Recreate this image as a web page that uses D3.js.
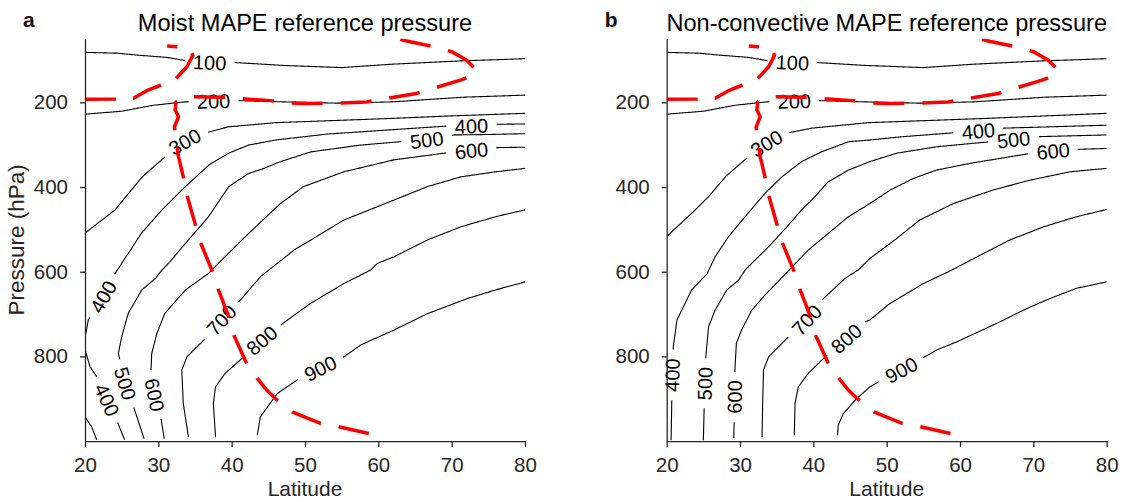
<!DOCTYPE html>
<html>
<head>
<meta charset="utf-8">
<script src="https://cdn.jsdelivr.net/npm/d3@7"></script>
<style>
  body { margin: 0; background: #fff; }
  svg text { font-family: "Liberation Sans", Arial, Helvetica, sans-serif; }
</style>
</head>
<body>
<div id="chart"></div>
<script>
// axis ticks
const latTicks = [20, 30, 40, 50, 60, 70, 80];
const pressureTicks = [200, 400, 600, 800];
const latDomain = [20, 80];
const pressureDomain = [50, 1000];

// contour lines, points are [latitude, pressure hPa]
// panel a: moist MAPE reference pressure
const moist100 = [[20,82],[24.4,84],[26.8,88],[31.2,94],[33.9,102],[37,106],[40.4,106],[47.2,113],[55,118],[61.8,110],[71.5,102],[80,97]];
const moist200 = [[20,228],[25,221],[29.3,207],[33.6,199],[40.8,196],[47.2,199],[54.5,202],[61.8,199],[71.5,188],[80,183]];
const moist300 = [[20,509],[24.1,454],[27.8,376],[30.9,329],[33.6,293],[36.9,270],[39.5,258],[46,248],[54,243],[61.8,238],[70,232],[80,226]];
const moist400 = [[80,251],[76,252],[72.7,256],[69.4,256],[61.6,265],[53,275],[46,289],[42.3,301],[39.6,320],[36.9,348],[33.2,407],[30.5,454],[27.7,509],[25.9,557],[24.1,604],[22.5,659],[20.45,714],[20.02,754],[20.02,785],[20.7,825],[21.6,848],[23.0,903],[24.4,954],[25.4,997]];
const moist400corner = [[20,943],[20.9,966],[21.6,997]];
const moist500 = [[80,274],[75,276],[70.3,277],[66.6,289],[63,293],[57.6,301],[50.8,317],[46.5,341],[44.1,358],[42.3,368],[39.6,399],[36.85,470],[33.7,533],[31.4,580],[30.4,598],[29.6,616],[27.75,643],[25.9,698],[25.0,754],[24.55,793],[25.5,864],[26.7,923],[28.05,994]];
const moist600 = [[80,306],[75.8,307],[72.7,314],[69,320],[62.1,336],[55.3,364],[49.8,399],[46.65,439],[44,482],[41.4,525],[38.2,580],[36.85,604],[33.7,643],[30.9,698],[29.8,746],[29.1,793],[29.0,832],[29.5,891],[30.4,950],[30.8,994]];
const moist700 = [[80,356],[76,364],[71.25,376],[66.7,399],[62.1,431],[55.3,478],[48.5,549],[43.9,612],[41.4,663],[38.6,714],[36.4,758],[33.9,801],[33.2,832],[33.4,911],[34.1,990]];
const moist800 = [[80,454],[76,470],[71.25,494],[66.7,525],[62.1,565],[59.9,580],[58.95,596],[55.3,628],[50.75,675],[47.3,718],[44.1,762],[41.4,805],[39.1,840],[37.8,872],[37.5,911],[37.8,990]];
const moist900 = [[80,624],[76,643],[72.2,663],[66.7,699],[62.1,738],[57.6,773],[55.3,801],[52.1,828],[48.9,856],[46.2,888],[43.9,943],[43.5,986]];
// labels: [level, latitude, pressure]
const moistLabels = [[100,37,106],[200,37.5,199],[300,33.6,293],[400,72.7,257],[500,66.6,290],[600,72.7,315],
  [400,22.5,659],[400,22.95,903],[500,25.4,864],[600,29.5,891],[700,38.6,714],[800,44.1,762],[900,52.1,828]];

// panel b: non-convective MAPE reference pressure
const nonconv100 = [[20,82],[24.4,84],[26.8,88],[31.2,94],[33.9,102],[37,106],[40.4,106],[47.2,113],[55,118],[61.8,110],[71.5,102],[80,97]];
const nonconv200 = [[20,228],[25,221],[29.3,207],[33.6,199],[40.8,196],[47.2,199],[54.5,202],[61.8,199],[71.5,188],[80,183]];
const nonconv300 = [[20,517],[23.9,454],[25.7,423],[28.0,376],[30.7,335],[33.6,297],[36.6,272],[39.8,261],[47.5,248],[63.6,238],[80,226]];
const nonconv400 = [[80,254],[65.9,261],[62.5,268],[59.1,272],[52.3,281],[47.7,289],[44.8,293],[41.1,317],[38.4,340],[35.7,376],[33.4,415],[30.7,470],[28.4,518],[26.6,565],[25.5,605],[23.4,643],[21.4,714],[20.9,777],[20.85,793],[20.75,844],[20.7,899],[20.6,998]];
const nonconv500 = [[80,277],[70.9,281],[67.3,288],[64.1,293],[56.8,305],[51.4,320],[47.7,340],[44.8,360],[42.0,388],[40.2,423],[38.4,454],[36.6,490],[33.9,541],[31.6,580],[30.7,596],[29.8,620],[28.2,643],[26.6,691],[25.7,730],[25.3,809],[25.2,864],[25.1,927],[25.0,998]];
const nonconv600 = [[80,309],[76.1,311],[72.7,315],[69.1,322],[61.4,344],[56.8,360],[53.6,380],[50.5,407],[47.7,439],[44.8,470],[42.0,510],[39.3,549],[36.6,598],[33.4,655],[31.6,691],[30.2,738],[29.5,769],[29.3,832],[29.25,896],[29.2,951],[29.15,993]];
const nonconv700 = [[80,356],[75,364],[69.5,384],[64.5,407],[59.1,439],[54.5,478],[51.4,521],[47.7,569],[46.1,596],[44.3,616],[41.4,663],[39.1,714],[36.6,754],[33.9,801],[33.2,832],[33.1,900],[33.0,990]];
const nonconv800 = [[80,453],[75.9,470],[71.4,494],[66.8,525],[61.4,573],[58.9,596],[55.0,628],[50.45,675],[47.7,714],[46.8,720],[44.5,758],[41.6,801],[39.3,840],[37.95,872],[37.5,911],[37.4,986]];
const nonconv900 = [[80,624],[75.9,639],[72.3,663],[69.1,687],[65.0,722],[59.5,766],[56.8,785],[55.2,801],[52.0,832],[48.9,860],[47.7,872],[45.7,903],[44.1,935],[43.4,962],[43.3,986]];
const nonconvLabels = [[100,37.2,107],[200,37.4,198],[300,33.6,297],[400,62.5,269],[500,67.3,290],[600,72.7,316],
  [400,20.75,844],[500,25.2,864],[600,29.3,896],[700,39.1,714],[800,44.5,758],[900,52.0,832]];

// red dashed curve (same in both panels)
const redLeft = [[20,193],[24.2,192],[26.6,190.5],[28.6,171],[29.5,165],[32.2,148],[33.9,116],[34.7,89],[34.4,77],[33.5,71],[32.4,68.5],[31.2,67]];
const redRight = [[63,51],[63.7,54.5],[67.6,68.7],[70.0,80.5],[72,100],[73.4,124],[73.2,134],[71.3,147],[67.1,169],[65.2,179],[60.8,192],[58.4,199],[54.0,202],[50,202.5],[47.7,201],[45.3,196],[40.9,191],[39.5,188],[34.6,187],[33.2,190],[32.4,200],[32.3,218],[32.75,234],[32.2,258],[32.4,290],[32.75,328],[33.4,376],[33.9,419],[35.0,486],[35.7,529],[37.3,596],[38.2,643],[39.6,706],[40.3,750],[42.0,815],[43.5,852],[44.8,880],[46.0,900],[48.25,931],[52.1,958],[54.6,966],[58.7,982]];

const panels = [
  { letter: "a", title: "Moist MAPE reference pressure", left: 85, ylabel: true,
    contours: [[100,moist100],[200,moist200],[300,moist300],[400,moist400],[400,moist400corner],[500,moist500],[600,moist600],[700,moist700],[800,moist800],[900,moist900]],
    labels: moistLabels },
  { letter: "b", title: "Non-convective MAPE reference pressure", left: 666.7, ylabel: false,
    contours: [[100,nonconv100],[200,nonconv200],[300,nonconv300],[400,nonconv400],[500,nonconv500],[600,nonconv600],[700,nonconv700],[800,nonconv800],[900,nonconv900]],
    labels: nonconvLabels }
];

const W = 1124, H = 502;
const plotW = 440, plotTop = 38.8, plotBottom = 441.1;
const axisColor = "#262626";
const dashLen = 31, dashPeriod = 48;

const svg = d3.select("#chart").append("svg")
  .attr("width", W).attr("height", H);

// screen-space polyline resampled to ~1px, each point carries arc length
function densify(pts) {
  const out = [[pts[0][0], pts[0][1], 0]];
  let s = 0;
  for (let i = 1; i < pts.length; i++) {
    const [x0, y0] = pts[i - 1], [x1, y1] = pts[i];
    const len = Math.hypot(x1 - x0, y1 - y0);
    const n = Math.max(1, Math.ceil(len));
    for (let k = 1; k <= n; k++) {
      out.push([x0 + (x1 - x0) * k / n, y0 + (y1 - y0) * k / n, s + len * k / n]);
    }
    s += len;
  }
  return out;
}

function pointAt(dense, s) {
  let best = dense[0];
  for (const q of dense) if (Math.abs(q[2] - s) < Math.abs(best[2] - s)) best = q;
  return best;
}

panels.forEach((pan, pi) => {
  const x = d3.scaleLinear().domain(latDomain).range([pan.left, pan.left + plotW]);
  const y = d3.scaleLinear().domain(pressureDomain).range([plotTop, plotBottom]);
  const g = svg.append("g");

  g.append("clipPath").attr("id", "clip" + pi)
    .append("rect")
    .attr("x", pan.left).attr("y", plotTop)
    .attr("width", plotW).attr("height", plotBottom - plotTop);

  const pieces = pan.contours.map(([lev, pts]) => ({
    lev,
    dense: densify(pts.map(d => [x(d[0]), y(d[1])])),
    cuts: []
  }));

  // contour labels, the line is cut where the label sits
  const labelG = g.append("g");
  pan.labels.forEach(([lev, la, pr]) => {
    const px = x(la), py = y(pr);
    let best = null;
    pieces.forEach((pc, i) => {
      if (pc.lev !== lev) return;
      pc.dense.forEach((q, j) => {
        const d = (q[0] - px) ** 2 + (q[1] - py) ** 2;
        if (!best || d < best.d) best = { d, i, j };
      });
    });
    const pc = pieces[best.i];
    const c = pc.dense[best.j];
    const t = labelG.append("text")
      .attr("text-anchor", "middle")
      .attr("dy", "0.36em")
      .attr("font-size", 20)
      .attr("fill", "#000")
      .text(lev);
    const half = t.node().getComputedTextLength() / 2 + 8;
    const a = pointAt(pc.dense, c[2] - half), b = pointAt(pc.dense, c[2] + half);
    let ang = Math.atan2(b[1] - a[1], b[0] - a[0]) * 180 / Math.PI;
    if (ang > 90) ang -= 180;
    if (ang < -90) ang += 180;
    t.attr("transform", `translate(${c[0]},${c[1]}) rotate(${ang})`);
    pc.cuts.push([c[2] - half, c[2] + half]);
  });

  const line = d3.line();
  const contourG = g.append("g").attr("clip-path", `url(#clip${pi})`);
  pieces.forEach(pc => {
    let run = [];
    const runs = [];
    pc.dense.forEach(q => {
      const inCut = pc.cuts.some(([s0, s1]) => q[2] > s0 && q[2] < s1);
      if (inCut) {
        if (run.length > 1) runs.push(run);
        run = [];
      } else run.push([q[0], q[1]]);
    });
    if (run.length > 1) runs.push(run);
    runs.forEach(r => {
      contourG.append("path")
        .attr("d", line(r))
        .attr("fill", "none")
        .attr("stroke", "#000")
        .attr("stroke-width", 1.1);
    });
  });

  // red dashed curve; on the long branch the gap is stretched a little
  // so that both ends finish on a dash
  const redLine = d3.line().x(d => x(d[0])).y(d => y(d[1]));
  [[redLeft, false], [redRight, true]].forEach(([r, fit]) => {
    const p = contourG.append("path")
      .attr("d", redLine(r))
      .attr("fill", "none")
      .attr("stroke", "#ff0000")
      .attr("stroke-width", 3.5);
    let gap = dashPeriod - dashLen;
    if (fit) {
      const L = p.node().getTotalLength();
      const n = Math.max(1, Math.round((L - dashLen) / dashPeriod));
      gap = (L - dashLen) / n - dashLen;
    }
    p.attr("stroke-dasharray", `${dashLen},${gap.toFixed(2)}`);
  });

  // axes
  const xAxis = g.append("g")
    .attr("transform", `translate(0,${plotBottom})`)
    .call(d3.axisBottom(x).tickValues(latTicks).tickSize(6).tickSizeOuter(0).tickPadding(10));
  const yAxis = g.append("g")
    .attr("transform", `translate(${pan.left},0)`)
    .call(d3.axisLeft(y).tickValues(pressureTicks).tickSize(5).tickSizeOuter(0).tickPadding(12));
  [xAxis, yAxis].forEach(ax => {
    ax.select(".domain").attr("stroke", axisColor).attr("stroke-width", 1.3);
    ax.selectAll(".tick line").attr("stroke", axisColor).attr("stroke-width", 1.3);
    ax.selectAll(".tick text")
      .attr("fill", axisColor)
      .attr("font-size", 20.5)
      .style("font-family", '"Liberation Sans", Arial, sans-serif');
  });

  g.append("text")
    .attr("x", pan.left + plotW / 2).attr("y", 496)
    .attr("text-anchor", "middle")
    .attr("font-size", 21)
    .attr("fill", axisColor)
    .text("Latitude");

  if (pan.ylabel) {
    g.append("text")
      .attr("transform", `translate(24,${(plotTop + plotBottom) / 2}) rotate(-90)`)
      .attr("text-anchor", "middle")
      .attr("font-size", 22.5)
      .attr("fill", axisColor)
      .text("Pressure (hPa)");
  }

  g.append("text")
    .attr("x", pan.left + plotW / 2).attr("y", 31)
    .attr("text-anchor", "middle")
    .attr("font-size", 23.6)
    .attr("fill", "#000")
    .text(pan.title);

  g.append("text")
    .attr("x", pan.left - 62).attr("y", 27)
    .attr("font-size", 21)
    .attr("font-weight", "bold")
    .attr("fill", "#111")
    .style("font-family", '"Liberation Sans Narrow", "Liberation Sans", Arial, sans-serif')
    .text(pan.letter);
});
</script>
</body>
</html>
